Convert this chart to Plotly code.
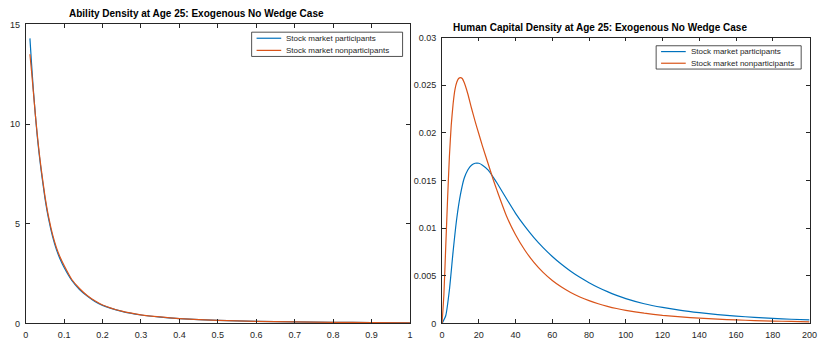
import plotly.graph_objects as go

# Ability density at age 25 (left panel)
ability = [0.011, 0.015, 0.02, 0.025, 0.03, 0.035, 0.04, 0.05, 0.06, 0.07, 0.08,
           0.09, 0.10, 0.12, 0.14, 0.16, 0.18, 0.20, 0.25, 0.30, 0.35, 0.40,
           0.50, 0.60, 0.70, 0.80, 0.90, 1.00]
ability_part = [14.3, 13.1, 11.7, 10.5, 9.4, 8.5, 7.7, 6.3, 5.2, 4.35, 3.7,
                3.2, 2.8, 2.15, 1.7, 1.37, 1.1, 0.9, 0.6, 0.42, 0.31, 0.24,
                0.15, 0.10, 0.07, 0.05, 0.04, 0.03]
ability_nonpart = [13.5, 12.7, 11.6, 10.5, 9.5, 8.6, 7.8, 6.4, 5.3, 4.45, 3.8,
                   3.3, 2.9, 2.2, 1.75, 1.4, 1.13, 0.92, 0.61, 0.43, 0.32, 0.24,
                   0.15, 0.10, 0.07, 0.05, 0.04, 0.03]

# Human capital density at age 25 (right panel)
hc_part_x = [0, 2, 4, 6, 8, 10, 12, 14, 16, 18, 20, 22, 25, 28, 30, 35, 40,
             45, 50, 55, 60, 65, 70, 75, 80, 85, 90, 95, 100, 110, 120, 130,
             140, 150, 160, 170, 180, 190, 200]
hc_part = [0.0, 0.0008, 0.0035, 0.0075, 0.0110, 0.0135, 0.0152, 0.0161,
           0.0166, 0.0168, 0.0168, 0.0166, 0.0161, 0.0153, 0.0147, 0.0131,
           0.01155, 0.0102, 0.0090, 0.00795, 0.00702, 0.0062, 0.00547,
           0.00483, 0.00427, 0.00377, 0.00333, 0.00294, 0.0026, 0.00206,
           0.00167, 0.00136, 0.00112, 0.00092, 0.00076, 0.00063, 0.00052,
           0.00043, 0.00036]
hc_nonpart_x = [0, 1, 2, 3, 4, 5, 6, 7, 8, 9, 10, 11, 12, 14, 16, 18, 20, 22,
                25, 28, 30, 35, 40, 45, 50, 55, 60, 65, 70, 75, 80, 85, 90, 95,
                100, 110, 120, 130, 140, 150, 160, 170, 180, 190, 200]
hc_nonpart = [0.0, 0.003, 0.008, 0.013, 0.0175, 0.0208, 0.0230, 0.0245,
              0.0253, 0.0257, 0.0258, 0.0257, 0.0253, 0.0241, 0.0226, 0.0212,
              0.0199, 0.0186, 0.0168, 0.0150, 0.0139, 0.0113, 0.0093, 0.0077,
              0.0064, 0.00535, 0.0045, 0.00381, 0.00324, 0.00277, 0.00238,
              0.00206, 0.00179, 0.00156, 0.00137, 0.00107, 0.00084, 0.00067,
              0.00054, 0.00044, 0.00036, 0.00029, 0.00024, 0.0002, 0.00016]

series_names = ["Stock market participants", "Stock market nonparticipants"]
titles = ["Ability Density at Age 25: Exogenous No Wedge Case",
          "Human Capital Density at Age 25: Exogenous No Wedge Case"]

BLUE = "#0072BD"
ORANGE = "#D95319"
AX = "#262626"
FONT = "Liberation Sans, Arial, Helvetica, sans-serif"
W, H = 822, 340
COLORS = [BLUE, ORANGE]

fig = go.Figure()
line_kw = dict(width=1.2, shape="spline", smoothing=0.5)

panels = [
    ("x", "y", [(ability, ability_part), (ability, ability_nonpart)]),
    ("x2", "y2", [(hc_part_x, hc_part), (hc_nonpart_x, hc_nonpart)]),
]
for xa, ya, series in panels:
    for i, (xs, ys) in enumerate(series):
        fig.add_trace(go.Scatter(x=xs, y=ys, mode="lines", name=series_names[i],
                                 line=dict(color=COLORS[i], **line_kw),
                                 xaxis=xa, yaxis=ya, showlegend=False))


def px_x(p):
    return p / W


def px_y(p):
    return 1 - p / H


axis_common = dict(showline=True, linecolor=AX, linewidth=0.8, mirror="ticks",
                   ticks="inside", ticklen=4, tickwidth=0.8, tickcolor=AX,
                   showgrid=False, zeroline=False, ticklabeloverflow="allow",
                   tickfont=dict(family=FONT, size=9, color=AX))

fig.update_layout(
    width=W, height=H,
    margin=dict(l=0, r=0, t=0, b=0),
    paper_bgcolor="white", plot_bgcolor="white",
    showlegend=False,
    xaxis=dict(domain=[px_x(23), px_x(412.5)], range=[0, 1], anchor="y",
               tickvals=[0, 0.1, 0.2, 0.3, 0.4, 0.5, 0.6, 0.7, 0.8, 0.9, 1],
               ticktext=["0", "0.1", "0.2", "0.3", "0.4", "0.5", "0.6", "0.7",
                         "0.8", "0.9", "1"], ticklabelstandoff=3,
               **axis_common),
    yaxis=dict(domain=[px_y(328), px_y(20)], range=[0, 15], anchor="x",
               tickvals=[0, 5, 10, 15], ticklabelstandoff=3, **axis_common),
    xaxis2=dict(domain=[px_x(445), px_x(817.5)], range=[0, 200], anchor="y2",
                tickvals=list(range(0, 201, 20)), ticklabelstandoff=3,
                **axis_common),
    yaxis2=dict(domain=[px_y(328), px_y(33.5)], range=[0, 0.03], anchor="x2",
                tickvals=[0, 0.005, 0.01, 0.015, 0.02, 0.025, 0.03],
                ticktext=["0", "0.005", "0.01", "0.015", "0.02", "0.025", "0.03"],
                ticklabelstandoff=3, **axis_common),
)

# Panel titles
for cx, cy, text in [(196, 9, titles[0]), (605.5, 23, titles[1])]:
    fig.add_annotation(x=px_x(cx), y=px_y(cy), xref="paper", yref="paper",
                       text=f"<b>{text}</b>", showarrow=False,
                       xanchor="center", yanchor="middle",
                       font=dict(family=FONT, size=10, color="black"))

# Boxed legends, one per panel: (left, top, right, bottom) in pixels
legend_boxes = [(252, 28, 405, 53), (662, 42, 809, 66)]
for left, top, right, bottom in legend_boxes:
    fig.add_shape(type="rect", xref="paper", yref="paper",
                  x0=px_x(left), x1=px_x(right), y0=px_y(bottom), y1=px_y(top),
                  line=dict(color=AX, width=0.8), fillcolor="white", layer="above")
    row_h = (bottom - top) / 2
    for i, name in enumerate(series_names):
        yc = top + row_h * (i + 0.5)
        fig.add_shape(type="line", xref="paper", yref="paper",
                      x0=px_x(left + 5), x1=px_x(left + 30),
                      y0=px_y(yc), y1=px_y(yc),
                      line=dict(color=COLORS[i], width=1.2), layer="above")
        fig.add_annotation(x=px_x(left + 33), y=px_y(yc), xref="paper",
                           yref="paper", text=name, showarrow=False,
                           xanchor="left", yanchor="middle",
                           font=dict(family=FONT, size=8, color=AX))

fig.write_html("out.html")
